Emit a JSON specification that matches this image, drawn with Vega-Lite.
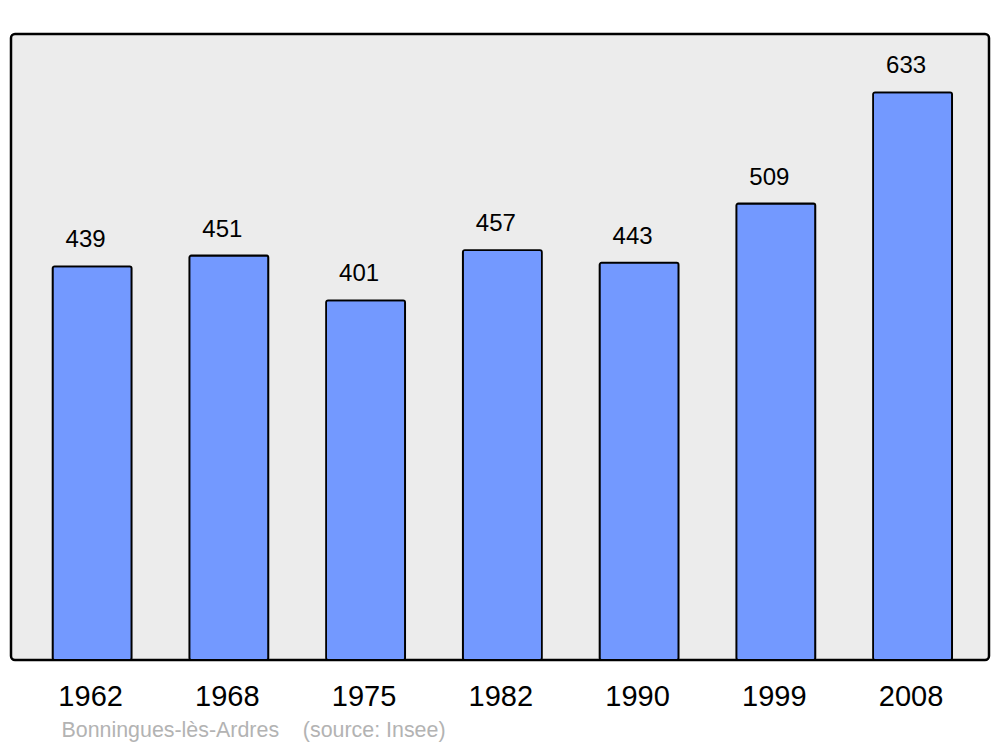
{
  "$schema": "https://vega.github.io/schema/vega-lite/v6.json",
  "autosize": "none",
  "width": 978,
  "height": 626,
  "padding": {"left": 11, "top": 34, "right": 11, "bottom": 87},
  "background": "#ffffff",
  "config": {
    "font": "Liberation Sans",
    "view": {"fill": "#ececec", "stroke": "#000000", "strokeWidth": 2.5, "cornerRadius": 4}
  },
  "data": {
    "values": [
      {"year": "1962", "population": 439},
      {"year": "1968", "population": 451},
      {"year": "1975", "population": 401},
      {"year": "1982", "population": 457},
      {"year": "1990", "population": 443},
      {"year": "1999", "population": 509},
      {"year": "2008", "population": 633}
    ]
  },
  "encoding": {
    "x": {
      "field": "year",
      "type": "nominal",
      "sort": null,
      "scale": {"paddingInner": 0.422, "paddingOuter": 0.287, "align": 0.53},
      "axis": {
        "title": "Bonningues-lès-Ardres\u00a0\u00a0\u00a0\u00a0(source: Insee)",
        "titleFont": "Liberation Sans",
        "titleFontSize": 21.4,
        "titleFontWeight": "normal",
        "titleColor": "#b3b3b3",
        "titleAlign": "left",
        "titleAnchor": "start",
        "titleBaseline": "alphabetic",
        "titleX": 50,
        "titleY": 76,
        "labelFont": "Liberation Sans",
        "labelFontSize": 29,
        "labelColor": "#000000",
        "labelAngle": 0,
        "labelPadding": 22,
        "labelOffset": -1.5,
        "labelBaseline": "top",
        "domain": false,
        "ticks": false,
        "grid": false
      }
    },
    "y": {
      "field": "population",
      "type": "quantitative",
      "scale": {"domain": [0, 698], "nice": false, "zero": true},
      "axis": null
    }
  },
  "layer": [
    {
      "mark": {"type": "bar", "fill": "#7399ff", "stroke": "#000000", "strokeWidth": 1.8, "cornerRadius": 2}
    },
    {
      "mark": {"type": "text", "font": "Liberation Sans", "fontSize": 24, "color": "#000000", "baseline": "alphabetic", "dy": -19, "dx": -6.5},
      "encoding": {"text": {"field": "population", "type": "quantitative"}}
    }
  ]
}
